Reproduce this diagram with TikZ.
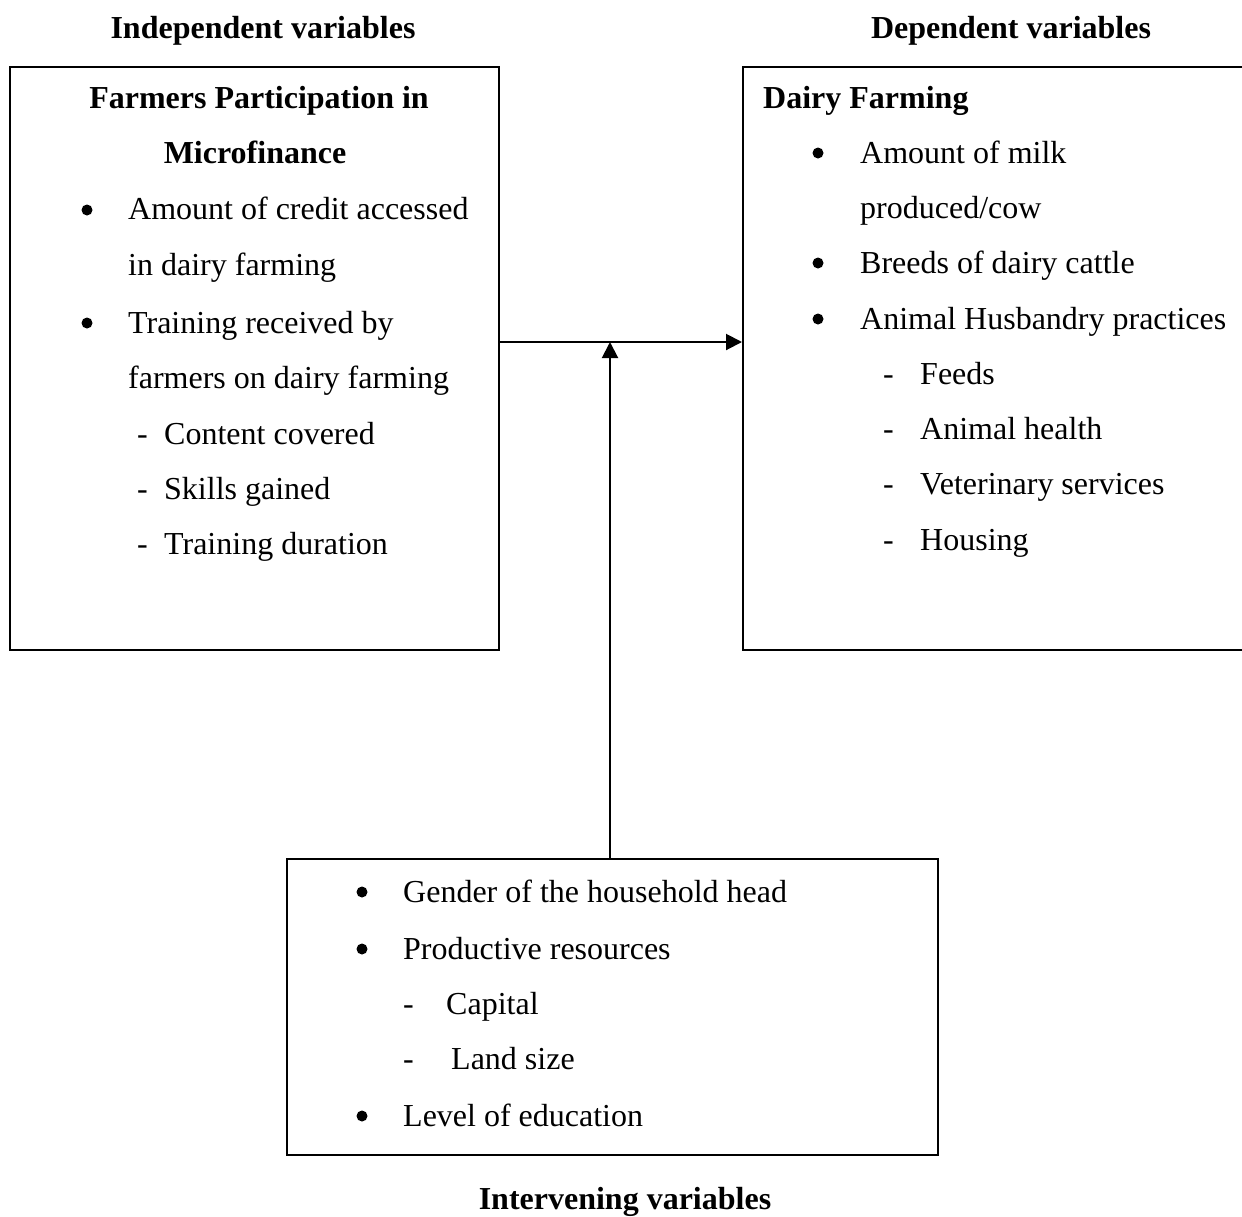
\documentclass[tikz,border=0pt]{standalone}
\usepackage{fontspec}
\setmainfont{Liberation Serif}
\usetikzlibrary{arrows.meta}
\begin{document}
\begin{tikzpicture}[x=1pt,y=-1pt,
  txt/.style={anchor=base west,inner sep=0pt,font=\fontsize{32}{38}\selectfont},
  btxt/.style={anchor=base,inner sep=0pt,font=\fontsize{32}{38}\selectfont\bfseries},
  box/.style={draw,line width=2pt,inner sep=0pt},
  arr/.style={line width=2pt,-{Triangle[length=16pt,width=16pt]}},
  bul/.style={fill=black}]
\useasboundingbox (0,0) rectangle (1242,1216);

% boxes
\node[box,minimum width=489pt,minimum height=583pt] (indep) at (254.5,358.5) {};
\node[box,minimum width=519pt,minimum height=583pt] (dep) at (1002.5,358.5) {};
\node[box,minimum width=651pt,minimum height=296pt] (interv) at (612.5,1007) {};

% headings
\node[btxt] (h1) at (263,38) {Independent variables};
\node[btxt] (h2) at (1011,38) {Dependent variables};
\node[btxt] (h3) at (625,1209) {Intervening variables};

% left box
\node[btxt] (l0a) at (259,108) {Farmers Participation in};
\node[btxt] (l0b) at (255,163) {Microfinance};
\fill[bul] (87,210) circle (5.5);
\node[txt] (l1) at (128,219) {Amount of credit accessed};
\node[txt] (l2) at (128,275) {in dairy farming};
\fill[bul] (87,323) circle (5.5);
\node[txt] (l3) at (128,333) {Training received by};
\node[txt] (l4) at (128,388) {farmers on dairy farming};
\node[txt] (l5d) at (137,444) {-};
\node[txt] (l5) at (164,444) {Content covered};
\node[txt] (l6d) at (137,499) {-};
\node[txt] (l6) at (164,499) {Skills gained};
\node[txt] (l7d) at (137,554) {-};
\node[txt] (l7) at (164,554) {Training duration};

% right box
\node[txt,font=\fontsize{32}{38}\selectfont\bfseries] (r0) at (763,108) {Dairy Farming};
\fill[bul] (818,153) circle (5.5);
\node[txt] (r1) at (860,163) {Amount of milk};
\node[txt] (r2) at (860,218) {produced/cow};
\fill[bul] (818,263) circle (5.5);
\node[txt] (r3) at (860,273) {Breeds of dairy cattle};
\fill[bul] (818,319) circle (5.5);
\node[txt] (r4) at (860,329) {Animal Husbandry practices};
\node[txt] (r5d) at (883,384) {-};
\node[txt] (r5) at (920,384) {Feeds};
\node[txt] (r6d) at (883,439) {-};
\node[txt] (r6) at (920,439) {Animal health};
\node[txt] (r7d) at (883,494) {-};
\node[txt] (r7) at (920,494) {Veterinary services};
\node[txt] (r8d) at (883,550) {-};
\node[txt] (r8) at (920,550) {Housing};

% bottom box
\fill[bul] (362,892) circle (5.5);
\node[txt] (b1) at (403,902) {Gender of the household head};
\fill[bul] (362,949) circle (5.5);
\node[txt] (b2) at (403,959) {Productive resources};
\node[txt] (b3d) at (403,1014) {-};
\node[txt] (b3) at (446,1014) {Capital};
\node[txt] (b4d) at (403,1069) {-};
\node[txt] (b4) at (451,1069) {Land size};
\fill[bul] (362,1116) circle (5.5);
\node[txt] (b5) at (403,1126) {Level of education};

% connectors
\coordinate (mid) at (610,342);
\draw[arr] (indep.east |- mid) -- (dep.west |- mid);
\draw[arr] (interv.north -| mid) -- (mid);
\end{tikzpicture}
\end{document}
